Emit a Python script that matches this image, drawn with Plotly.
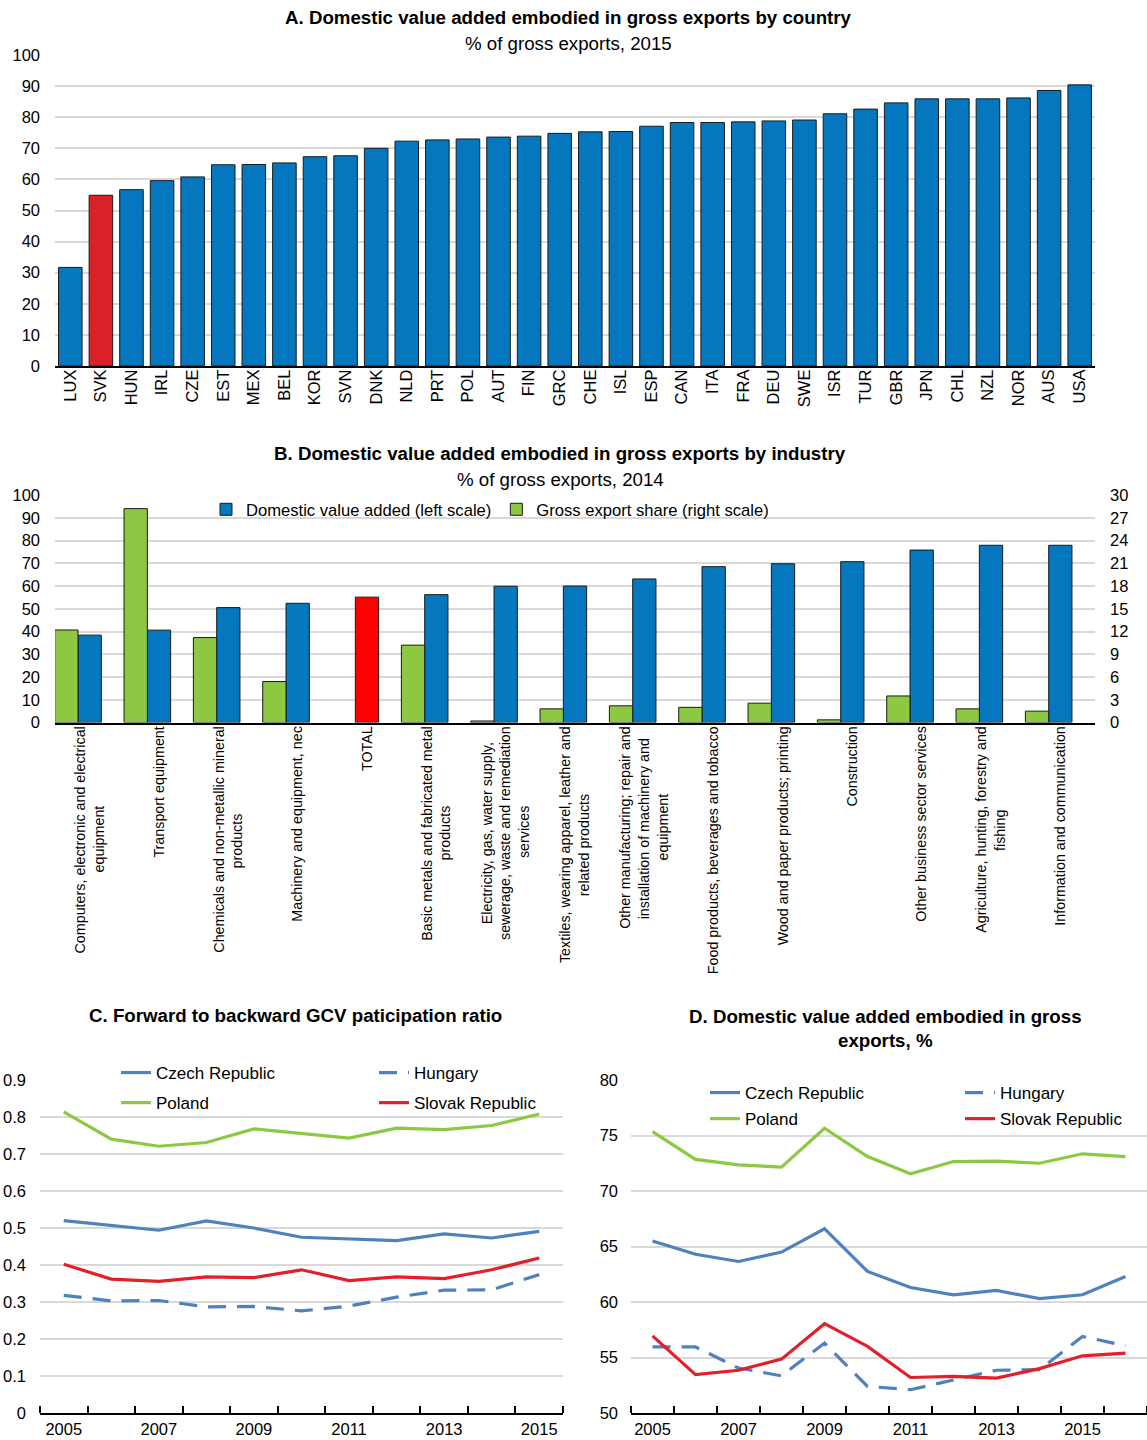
import plotly.graph_objects as go

# ---------------- Data ----------------
countries = ["LUX", "SVK", "HUN", "IRL", "CZE", "EST", "MEX", "BEL", "KOR", "SVN", "DNK", "NLD",
             "PRT", "POL", "AUT", "FIN", "GRC", "CHE", "ISL", "ESP", "CAN", "ITA", "FRA", "DEU",
             "SWE", "ISR", "TUR", "GBR", "JPN", "CHL", "NZL", "NOR", "AUS", "USA"]
dva_country = [31.7, 54.9, 56.7, 59.6, 60.8, 64.7, 64.8, 65.3, 67.3, 67.6, 70.0, 72.3,
               72.7, 73.0, 73.6, 73.9, 74.8, 75.3, 75.4, 77.1, 78.3, 78.3, 78.5, 78.8,
               79.1, 81.1, 82.6, 84.6, 85.9, 85.9, 85.9, 86.2, 88.6, 90.4]
highlight_country = "SVK"

industries = [
    "Computers, electronic and electrical<br>equipment",
    "Transport equipment",
    "Chemicals and non-metallic mineral<br>products",
    "Machinery and equipment, nec",
    "TOTAL",
    "Basic metals and fabricated metal<br>products",
    "Electricity, gas, water supply,<br>sewerage, waste and remediation<br>services",
    "Textiles, wearing apparel, leather and<br>related products",
    "Other manufacturing; repair and<br>installation of machinery and<br>equipment",
    "Food products, beverages and tobacco",
    "Wood and paper products; printing",
    "Construction",
    "Other business sector services",
    "Agriculture, hunting, forestry and<br>fishing",
    "Information and communication",
]
dva_industry = [38.4, 40.6, 50.5, 52.4, 55.1, 56.2, 59.9, 60.0, 63.1, 68.5, 69.8, 70.7, 75.8, 77.9, 77.9]
export_share = [12.2, 28.2, 11.2, 5.4, None, 10.2, 0.2, 1.8, 2.2, 2.0, 2.55, 0.35, 3.5, 1.8, 1.5]
highlight_industry = "TOTAL"

years_c = list(range(2005, 2016))
ratio_cze = [0.520, 0.508, 0.494, 0.519, 0.500, 0.475, 0.471, 0.466, 0.484, 0.473, 0.491]
ratio_hun = [0.318, 0.303, 0.304, 0.287, 0.288, 0.276, 0.289, 0.313, 0.332, 0.333, 0.374]
ratio_pol = [0.814, 0.740, 0.721, 0.731, 0.768, 0.755, 0.743, 0.770, 0.766, 0.777, 0.808]
ratio_svk = [0.402, 0.362, 0.356, 0.368, 0.366, 0.387, 0.358, 0.368, 0.363, 0.387, 0.419]

years_d = list(range(2005, 2017))
dva_cze = [65.5, 64.3, 63.65, 64.5, 66.6, 62.75, 61.3, 60.65, 61.05, 60.3, 60.65, 62.3]
dva_hun = [55.95, 55.95, 54.05, 53.35, 56.3, 52.4, 52.1, 52.95, 53.85, 53.9, 56.9, 56.05]
dva_pol = [75.35, 72.85, 72.35, 72.15, 75.65, 73.1, 71.55, 72.65, 72.7, 72.5, 73.35, 73.1]
dva_svk = [56.95, 53.45, 53.85, 54.85, 58.05, 56.0, 53.2, 53.3, 53.15, 54.0, 55.15, 55.4]

# ---------------- Styles ----------------
FONT = "Liberation Sans, Arial, sans-serif"
BLUE = "#0477BF"
RED_A = "#DA2128"
RED_B = "#FF0000"
GREEN = "#8CC841"
LBLUE = "#4F81BD"
LRED = "#E3202A"
GRID = "#D9D9D9"
OUTLINE = "#1a1a1a"
W, H = 1147, 1440


def px(xp):
    return xp / W


def py(yp):
    return 1 - yp / H


# approximate Arial advance widths (per 1000 em) used to centre multi-line rotated labels
_AW = dict(zip("abcdefghijklmnopqrstuvwxyz",
               [556, 556, 500, 556, 556, 278, 556, 556, 222, 222, 500, 222, 833, 556, 556, 556, 556,
                333, 500, 278, 556, 500, 722, 500, 500, 500]))
_AW.update(dict(zip("ABCDEFGHIJKLMNOPQRSTUVWXYZ",
                    [667, 667, 722, 722, 667, 611, 778, 722, 278, 500, 667, 556, 833, 722, 778, 667,
                     778, 722, 667, 611, 722, 667, 944, 667, 667, 611])))
_AW.update({" ": 278, ",": 278, ";": 278, ".": 278, "-": 333, "(": 333, ")": 333})


def centre_lines(label):
    lines = label.split("<br>")
    if len(lines) == 1:
        return label
    widths = [sum(_AW.get(ch, 556) for ch in ln) for ln in lines]
    m = max(widths)
    return "<br>".join(ln + "\u00a0" * int(round((m - w) / 2 / 278)) for ln, w in zip(lines, widths))


fig = go.Figure()

# Panel A
fig.add_trace(go.Bar(
    x=countries, y=dva_country, xaxis="x", yaxis="y", width=0.77,
    marker=dict(color=[RED_A if c == highlight_country else BLUE for c in countries],
                line=dict(color=OUTLINE, width=1)),
    showlegend=False))

# Panel B
BW = 0.336
fig.add_trace(go.Bar(
    x=industries, y=export_share, xaxis="x2", yaxis="y3", width=BW, offset=-1.5 * BW,
    name="Gross export share (right scale)", legend="legend", legendrank=2,
    marker=dict(color=GREEN, line=dict(color=OUTLINE, width=1))))
fig.add_trace(go.Bar(
    x=industries, y=dva_industry, xaxis="x2", yaxis="y2", width=BW, offset=-0.5 * BW,
    name="Domestic value added (left scale)", legend="legend", legendrank=1,
    marker=dict(color=[RED_B if i == highlight_industry else BLUE for i in industries],
                line=dict(color=OUTLINE, width=1))))

# Panel C
DASH = "18px,11px"
series_c = [("Czech Republic", ratio_cze, LBLUE, "solid", "legend2"),
            ("Hungary", ratio_hun, LBLUE, DASH, "legend3"),
            ("Poland", ratio_pol, GREEN, "solid", "legend2"),
            ("Slovak Republic", ratio_svk, LRED, "solid", "legend3")]
for name, vals, col, dash, lg in series_c:
    fig.add_trace(go.Scatter(x=years_c, y=vals, xaxis="x4", yaxis="y4", mode="lines", name=name,
                             legend=lg, legendgroup="c" + name,
                             line=dict(color=col, width=3.2, dash=dash)))

# Panel D
series_d = [("Czech Republic", dva_cze, LBLUE, "solid", "legend4"),
            ("Hungary", dva_hun, LBLUE, DASH, "legend5"),
            ("Poland", dva_pol, GREEN, "solid", "legend4"),
            ("Slovak Republic", dva_svk, LRED, "solid", "legend5")]
for name, vals, col, dash, lg in series_d:
    fig.add_trace(go.Scatter(x=years_d, y=vals, xaxis="x5", yaxis="y5", mode="lines", name=name,
                             legend=lg, legendgroup="d" + name,
                             line=dict(color=col, width=3.2, dash=dash)))

tickfont = dict(family=FONT, size=16.5, color="#000")
yax_common = dict(showgrid=True, gridcolor=GRID, gridwidth=2, zeroline=False, ticks="",
                  tickfont=tickfont, showline=False, automargin=False)


def legend_cfg(x, y, gap):
    return dict(x=x, y=y, xanchor="left", yanchor="top", tracegroupgap=gap, itemwidth=30,
                font=dict(family=FONT, size=17, color="#000"), bgcolor="rgba(0,0,0,0)")


fig.update_layout(
    width=W, height=H,
    margin=dict(l=0, r=0, t=0, b=0, autoexpand=False),
    paper_bgcolor="white", plot_bgcolor="white",
    # Panel A
    xaxis=dict(domain=[px(55), px(1095)], anchor="y", type="category", tickangle=-90,
               tickfont=tickfont, ticks="", showline=True, linecolor="#000", linewidth=2,
               range=[-0.5, len(countries) - 0.5], automargin=False, ticklabelstandoff=-5),
    yaxis=dict(domain=[py(366), py(55)], anchor="x", range=[0, 100], dtick=10,
               ticklabelstandoff=14, **yax_common),
    # Panel B
    xaxis2=dict(domain=[px(55), px(1095)], anchor="y2", type="category", tickangle=-90,
                tickfont=dict(family=FONT, size=14.3, color="#000"), ticks="", showline=True,
                linecolor="#000", linewidth=2, range=[-0.5, len(industries) - 0.5],
                tickvals=industries, ticktext=[centre_lines(s) for s in industries],
                automargin=False, ticklabelstandoff=-4),
    yaxis2=dict(domain=[py(722.5), py(495)], anchor="x2", range=[0, 100], dtick=10,
                ticklabelstandoff=14, **yax_common),
    yaxis3=dict(overlaying="y2", side="right", anchor="x2", range=[0, 30], dtick=3, showgrid=False,
                zeroline=False, ticks="", tickfont=tickfont, showline=False, automargin=False,
                ticklabelstandoff=14),
    # Panel C
    xaxis4=dict(domain=[px(40), px(563)], anchor="y4", range=[2004.5, 2015.5],
                tickvals=years_c[::2], ticks="", tickfont=tickfont, showgrid=False, zeroline=False,
                showline=True, linecolor="#000", linewidth=2, automargin=False,
                minor=dict(ticks="inside", tick0=2004.5, dtick=1, ticklen=7, tickcolor="#000",
                           tickwidth=2, showgrid=False)),
    yaxis4=dict(domain=[py(1413), py(1080)], anchor="x4", range=[0, 0.9], dtick=0.1,
                ticklabelstandoff=13, **yax_common),
    # Panel D
    xaxis5=dict(domain=[px(631), 1.0], anchor="y5", range=[2004.5, 2016.5],
                tickvals=years_d[:11:2], ticks="", tickfont=tickfont, showgrid=False, zeroline=False,
                showline=True, linecolor="#000", linewidth=2, automargin=False,
                minor=dict(ticks="inside", tick0=2004.5, dtick=1, ticklen=7, tickcolor="#000",
                           tickwidth=2, showgrid=False)),
    yaxis5=dict(domain=[py(1413), py(1080)], anchor="x5", range=[50, 80], dtick=5,
                ticklabelstandoff=12, **yax_common),
    legend=dict(x=px(206), y=py(492), orientation="h", xanchor="left", yanchor="top",
                font=dict(family=FONT, size=16.6, color="#000"), bgcolor="rgba(0,0,0,0)",
                traceorder="normal"),
    legend2=legend_cfg(px(116), py(1055), 5),
    legend3=legend_cfg(px(374), py(1055), 5),
    legend4=legend_cfg(px(705), py(1075), 1),
    legend5=legend_cfg(px(960), py(1075), 1),
)

title_font = dict(family=FONT, size=18.7, color="#000")
annots = [
    ("<b>A. Domestic value added embodied in gross exports by country</b>", 568, 18),
    ("% of gross exports, 2015", 568, 43),
    ("<b>B. Domestic value added embodied in gross exports by industry</b>", 560, 453),
    ("% of gross exports, 2014", 560, 479),
    ("<b>C. Forward to backward GCV paticipation ratio</b>", 295, 1015),
    ("<b>D. Domestic value added embodied in gross<br>exports, %</b>", 885, 1028.5),
]
for text, xp, yp in annots:
    fig.add_annotation(text=text, x=px(xp), y=py(yp), xref="paper", yref="paper",
                       xanchor="center", yanchor="middle", showarrow=False, font=title_font)

fig.write_html("out.html", config={"displayModeBar": False},
               post_script="document.body.style.margin='0px';")
